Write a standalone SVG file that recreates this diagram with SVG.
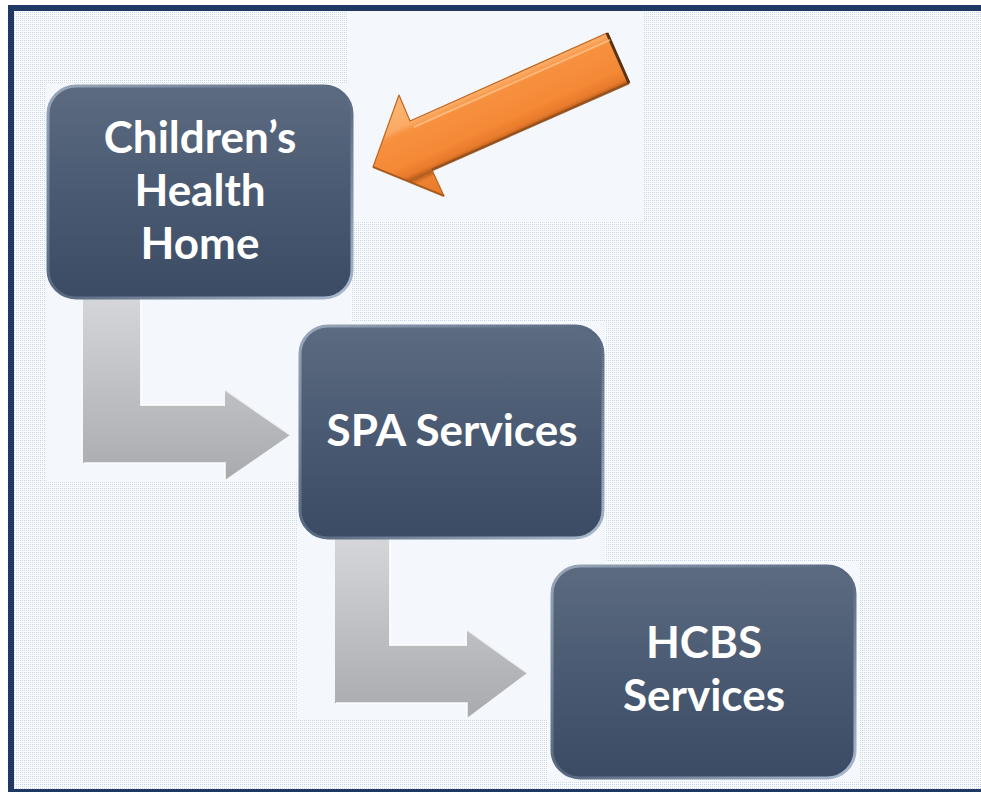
<svg xmlns="http://www.w3.org/2000/svg" width="981" height="792" viewBox="0 0 981 792">
<defs>
<style>
.lbl{font-family:"Lato","Open Sans","Liberation Sans",sans-serif;font-weight:700;font-size:44px;fill:#ffffff;text-anchor:middle}
.clean{fill:#f4f7fb}
.box{fill:url(#boxg);stroke:url(#boxs);stroke-width:3}
.gray{fill:url(#grayg)}
</style>
<pattern id="dots" width="4" height="4" patternUnits="userSpaceOnUse">
<rect width="4" height="4" fill="#fbfcfe"/>
<rect x="0" y="0" width="1" height="1" fill="#c9cdd6"/>
<rect x="2" y="0" width="1" height="1" fill="#c4daf0"/>
<rect x="0" y="2" width="1" height="1" fill="#cfe1f3"/>
<rect x="2" y="2" width="1" height="1" fill="#cdd1d9"/>
</pattern>
<linearGradient id="boxg" x1="0" y1="0" x2="0" y2="1">
<stop offset="0" stop-color="#5c6b80"/>
<stop offset="0.5" stop-color="#4a5a72"/>
<stop offset="1" stop-color="#3b4b64"/>
</linearGradient>
<linearGradient id="boxs" x1="0" y1="0" x2="1" y2="1">
<stop offset="0" stop-color="#9aa8ba"/>
<stop offset="0.5" stop-color="#56667e"/>
<stop offset="1" stop-color="#a9bbd0"/>
</linearGradient>
<linearGradient id="grayg" x1="0" y1="0" x2="0" y2="1">
<stop offset="0" stop-color="#d4d6da"/>
<stop offset="1" stop-color="#a8aaae"/>
</linearGradient>
<linearGradient id="orangeg" gradientUnits="userSpaceOnUse" x1="399" y1="95" x2="444" y2="196">
<stop offset="0" stop-color="#fcb675"/>
<stop offset="0.27" stop-color="#fbab66"/>
<stop offset="0.33" stop-color="#f7913f"/>
<stop offset="0.6" stop-color="#f48936"/>
<stop offset="0.7" stop-color="#e97b2c"/>
<stop offset="0.75" stop-color="#b45c1c"/>
<stop offset="0.8" stop-color="#ee8131"/>
<stop offset="1" stop-color="#e57a2c"/>
</linearGradient>
</defs>

<rect x="0" y="0" width="981" height="792" fill="#ffffff"/>
<rect x="14" y="11" width="967" height="778" fill="url(#dots)"/>

<g id="clean-patches">
<rect class="clean" x="348" y="11" width="296" height="211"/>
<rect class="clean" x="45" y="83" width="306" height="399"/>
<rect class="clean" x="298" y="322" width="307" height="398"/>
<rect class="clean" x="548" y="562" width="312" height="220"/>
</g>

<g id="frame" fill="#1f3864">
<rect x="8" y="5" width="973" height="6"/>
<rect x="8" y="5" width="6" height="787"/>
<rect x="8" y="789" width="973" height="3"/>
</g>

<g id="connectors">
<g id="conn1">
<path class="gray" d="M83,298 L141,298 L141,405 L225,405 L225,390 L290,435 L225,480 L225,463 L83,463 Z"/>
<path d="M141,298 L141,405 L225,405" fill="none" stroke="#ffffff" stroke-width="2" opacity="0.8"/>
<path d="M84,463 L225,463 L225,480" fill="none" stroke="#ffffff" stroke-width="2" opacity="0.7"/>
<path d="M225,390 L290,435" fill="none" stroke="#eef0f3" stroke-width="1.5"/>
</g>
<g id="conn2">
<path class="gray" d="M335,538 L390,538 L390,645 L467,645 L467,630 L527,673 L467,718 L467,703 L335,703 Z"/>
<path d="M390,538 L390,645 L467,645" fill="none" stroke="#ffffff" stroke-width="2" opacity="0.8"/>
<path d="M336,703 L467,703 L467,718" fill="none" stroke="#ffffff" stroke-width="2" opacity="0.7"/>
<path d="M467,630 L527,673" fill="none" stroke="#eef0f3" stroke-width="1.5"/>
</g>
<g id="orange-arrow">
<polygon points="607,33 410,121 399,95 373,167 444,196 432,170 629,83" fill="url(#orangeg)" stroke="#c0661f" stroke-width="1.2" stroke-linejoin="round"/>
<path d="M432,170 L629,83" stroke="#8a4a18" stroke-width="2.5" fill="none" opacity="0.8"/>
<path d="M373,167 L444,196" stroke="#9a5018" stroke-width="2" fill="none" opacity="0.7"/>
<path d="M607,33 L629,83" stroke="#5a3210" stroke-width="3" fill="none"/>
<path d="M610,40 L414,127" stroke="#fdc890" stroke-width="2" fill="none" opacity="0.7"/>
</g>
</g>

<g id="node-chh">
<rect class="box" x="48" y="86" width="304" height="212" rx="28"/>
<text class="lbl" x="200" y="153">Children’s</text>
<text class="lbl" x="200" y="206">Health</text>
<text class="lbl" x="200" y="259">Home</text>
</g>

<g id="node-spa">
<rect class="box" x="300" y="326" width="303" height="212" rx="28"/>
<text class="lbl" x="452" y="446">SPA Services</text>
</g>

<g id="node-hcbs">
<rect class="box" x="552" y="566" width="303" height="212" rx="28"/>
<text class="lbl" x="704" y="658">HCBS</text>
<text class="lbl" x="704" y="711">Services</text>
</g>
</svg>
